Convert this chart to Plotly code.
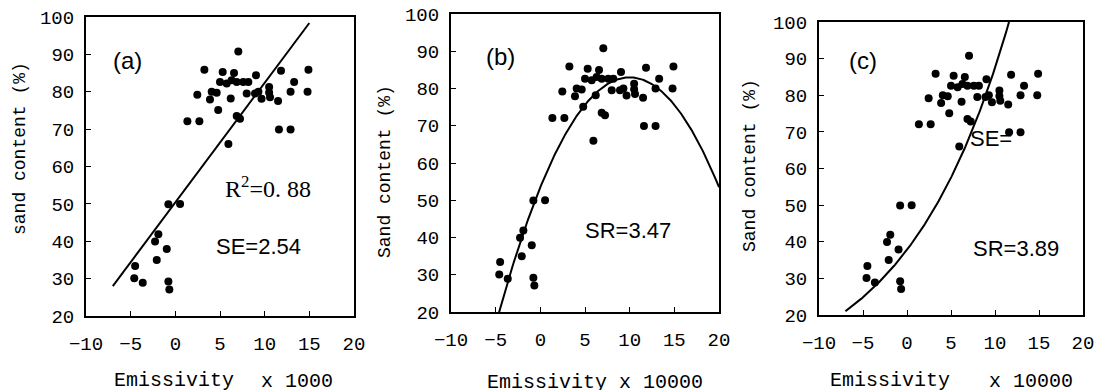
import numpy as np
import plotly.graph_objects as go

# ---- data ----
emissivity = [7.05, 3.25, 5.3, 6.57, 9.03, 11.83, 14.9, 5.0, 5.75, 6.3, 6.87, 7.6, 8.17, 13.3,
              2.46, 4.07, 4.63, 3.88, 6.2, 7.99, 8.92, 9.3, 9.65, 10.5, 10.5, 10.6, 11.5, 14.8,
              4.8, 6.87, 7.24, 1.35, 2.69, 11.6, 12.9, 5.94, 12.9,
              -0.78, 0.53, -1.9, -2.27, -0.96, -2.08, -4.5, -4.6, -3.65, -0.78, -0.67]
sand = [90.8, 85.9, 85.3, 85.0, 84.4, 85.6, 85.9, 82.6, 82.2, 83.1, 82.6, 82.6, 82.6, 82.6,
        79.2, 80.0, 79.7, 77.9, 78.2, 79.5, 79.5, 80.0, 78.1, 81.3, 79.8, 78.5, 77.5, 80.0,
        75.1, 73.5, 72.8, 72.1, 72.1, 69.9, 69.9, 66.0, 80.0,
        49.9, 50.0, 41.9, 39.9, 37.9, 35.0, 33.4, 30.1, 28.9, 29.2, 27.1]

# fitted model coefficients
lin_slope, lin_icpt = 3.2, 50.4                 # panel (a)
quad_peak_x, quad_peak_y, quad_a = 10.0, 83.0, 0.295  # panel (b)
exp_A, exp_b = 37.8, 0.0839                     # panel (c)

x_ticks = [-10, -5, 0, 5, 10, 15, 20]
y_ticks = [20, 30, 40, 50, 60, 70, 80, 90, 100]

panel_labels = ["(a)", "(b)", "(c)"]
y_titles = ["sand content (%)", "Sand content (%)", "Sand content (%)"]

# ---- figure ----
fig = go.Figure()

xa = np.linspace(-7, 15, 50)
xb = np.linspace(-4.7, 20, 200)
xc = np.linspace(-7, 12, 200)
curves = [
    (xa, lin_slope * xa + lin_icpt),
    (xb, quad_peak_y - quad_a * (xb - quad_peak_x) ** 2),
    (xc, exp_A * np.exp(exp_b * xc)),
]

for i in range(3):
    suf = "" if i == 0 else str(i + 1)
    fig.add_trace(go.Scatter(x=emissivity, y=sand, mode="markers",
                             marker=dict(color="black", size=8),
                             xaxis="x" + suf, yaxis="y" + suf, showlegend=False))
    cx, cy = curves[i]
    fig.add_trace(go.Scatter(x=cx, y=cy, mode="lines",
                             line=dict(color="black", width=2),
                             xaxis="x" + suf, yaxis="y" + suf, showlegend=False))

x_domains = [[86 / 1096, 354 / 1096], [451 / 1096, 719 / 1096], [819 / 1096, 1083 / 1096]]
y_domains = [[1 - 316 / 390, 1 - 17 / 390], [1 - 312 / 390, 1 - 14 / 390], [1 - 315 / 390, 1 - 22 / 390]]

tickfont = dict(family="Liberation Mono", size=19, color="black")
common = dict(showline=True, mirror=True, linewidth=2, linecolor="black",
              ticks="inside", ticklen=5, tickwidth=1, tickcolor="black",
              showgrid=False, zeroline=False, tickfont=tickfont, automargin=False)

layout = dict(width=1096, height=390, margin=dict(l=0, r=0, t=0, b=0, autoexpand=False),
              plot_bgcolor="white", paper_bgcolor="white", showlegend=False)
for i in range(3):
    suf = "" if i == 0 else str(i + 1)
    layout["xaxis" + suf] = dict(domain=x_domains[i], range=[-10, 20], tickvals=x_ticks,
                                 anchor="y" + suf, ticklabelstandoff=9, **common)
    layout["yaxis" + suf] = dict(domain=y_domains[i], range=[20, 100], tickvals=y_ticks,
                                 anchor="x" + suf, ticklabelstandoff=6, **common)
fig.update_layout(**layout)

ann = []
sans = dict(family="Liberation Sans", size=22, color="black")
sans_lbl = dict(family="Liberation Sans", size=24, color="black")
serif = dict(family="Liberation Serif", size=24, color="black")
mono_t = dict(family="Liberation Mono", size=18, color="black")
mono_x = dict(family="Liberation Mono", size=20, color="black")

def A(**kw):
    kw.setdefault("showarrow", False)
    kw.setdefault("xanchor", "center")
    kw.setdefault("yanchor", "middle")
    return kw

# panel labels
label_pos = [(-5.3, 88.4), (-4.5, 88.5), (-5.0, 89.5)]
for i in range(3):
    suf = "" if i == 0 else str(i + 1)
    ann.append(A(x=label_pos[i][0], y=label_pos[i][1], xref="x" + suf, yref="y" + suf,
                 text=panel_labels[i], font=sans_lbl))

# statistics text
ann += [
    A(x=10.4, y=54.5, xref="x", yref="y", text="R<sup>2</sup>=0. 88", font=serif),
    A(x=9.3, y=38.5, xref="x", yref="y", text="SE=2.54", font=sans),
    A(x=9.8, y=42.0, xref="x2", yref="y2", text="SR=3.47", font=sans),
    A(x=9.6, y=68.2, xref="x3", yref="y3", text="SE=", font=sans),
    A(x=12.4, y=38.2, xref="x3", yref="y3", text="SR=3.89", font=sans),
]

# y-axis titles
ytitle_pos = [(20, 149), (385, 172), (750, 166)]
for i in range(3):
    px, py = ytitle_pos[i]
    ann.append(A(x=px / 1096, y=1 - py / 390, xref="paper", yref="paper",
                 text=y_titles[i], textangle=-90, font=mono_t))

# x-axis titles
xt = [("Emissivity", 174, 380), ("x 1000", 297, 381), ("Emissivity x 10000", 595, 382),
      ("Emissivity", 890, 380), ("x 10000", 1031, 381)]
for text, px, py in xt:
    ann.append(A(x=px / 1096, y=1 - py / 390, xref="paper", yref="paper",
                 text=text, font=mono_x))

fig.update_layout(annotations=ann)
fig.write_html("out.html", config={"displayModeBar": False},
               post_script="document.body.style.margin='0';document.body.style.overflow='hidden';")
